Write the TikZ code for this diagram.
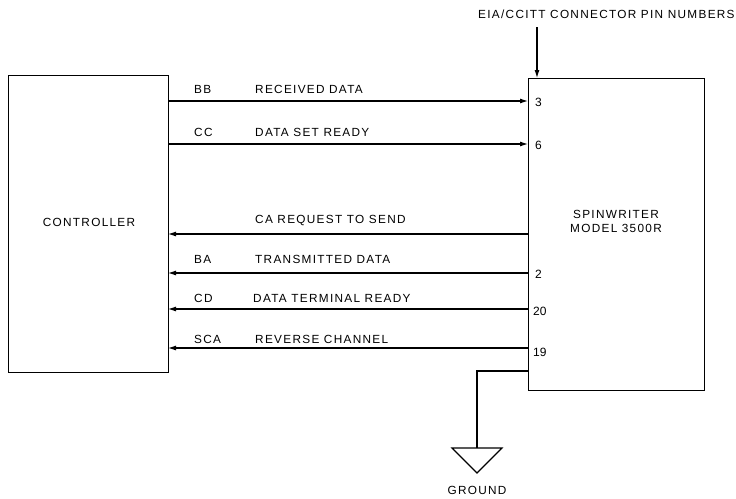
\documentclass[tikz,border=0pt]{standalone}
\usepackage{fontspec}
\setmainfont{Liberation Sans}
\newfontfamily\spaced[LetterSpace=11]{Liberation Sans}
\usetikzlibrary{arrows.meta}
\begin{document}
\begin{tikzpicture}[x=1pt,y=-1pt,
  txt/.style={font=\spaced\fontsize{11.8}{14}\selectfont, inner sep=0pt},
  lbl/.style={txt, anchor=base west},
  pin/.style={font=\fontsize{12}{12}\selectfont, inner sep=0pt, anchor=west},
  wire/.style={line width=1.1pt, -{Latex[length=8pt,width=5pt]}},
  box/.style={draw, line width=1pt}]
\useasboundingbox (0,0) rectangle (736,498);
\node[box, minimum width=160pt, minimum height=297pt, anchor=north west] (ctrl) at (8,75) {};
\node[box, minimum width=176pt, minimum height=312pt, anchor=north west] (spin) at (528,78) {};
\node[txt] (ctl) at (89,222) {CONTROLLER};
\node[txt, align=center] (sptxt) at (616,221) {SPINWRITER\\MODEL 3500R};
% connector-side coordinates
\coordinate (c1) at (168,101); \coordinate (s1) at (528,101);
\coordinate (c2) at (168,144); \coordinate (s2) at (528,144);
\coordinate (c3) at (168,234); \coordinate (s3) at (528,234);
\coordinate (c4) at (168,273); \coordinate (s4) at (528,273);
\coordinate (c5) at (168,309); \coordinate (s5) at (528,309);
\coordinate (c6) at (168,348); \coordinate (s6) at (528,348);
\draw[wire] (c1) -- (s1);
\draw[wire] (c2) -- (s2);
\draw[wire] (s3) -- (c3);
\draw[wire] (s4) -- (c4);
\draw[wire] (s5) -- (c5);
\draw[wire] (s6) -- (c6);
% labels
\node[lbl] (l1a) at (194,93) {BB};
\node[lbl] (l1b) at (255,93) {RECEIVED DATA};
\node[lbl] (l2a) at (194,136) {CC};
\node[lbl] (l2b) at (255,136) {DATA SET READY};
\node[lbl] (l3b) at (255,223) {CA REQUEST TO SEND};
\node[lbl] (l4a) at (194,263) {BA};
\node[lbl] (l4b) at (255,263) {TRANSMITTED DATA};
\node[lbl] (l5a) at (194,302) {CD};
\node[lbl] (l5b) at (253,302) {DATA TERMINAL READY};
\node[lbl] (l6a) at (194,343) {SCA};
\node[lbl] (l6b) at (255,343) {REVERSE CHANNEL};
% pins
\node[pin] (p3) at (535,102) {3};
\node[pin] (p6) at (535,145) {6};
\node[pin] (p2) at (535,274) {2};
\node[pin] (p20) at (533,311) {20};
\node[pin] (p19) at (533,352) {19};
% top label
\node[txt, anchor=west] (eia) at (478,14) {EIA/CCITT CONNECTOR PIN NUMBERS};
\coordinate (eiaA) at (537,27);
\draw[wire] (eiaA) -- (spin.north west -| eiaA);
% ground
\coordinate (g0) at (528,371);
\coordinate (g1) at (477,371);
\coordinate (g2) at (477,448);
\draw[line width=1.1pt] (g0) -- (g1) -- (g2);
\draw[line width=1.2pt] (452,448) -- (502,448) -- (477,473) -- cycle;
\node[txt] (gnd) at (477,490) {GROUND};
\end{tikzpicture}
\end{document}
